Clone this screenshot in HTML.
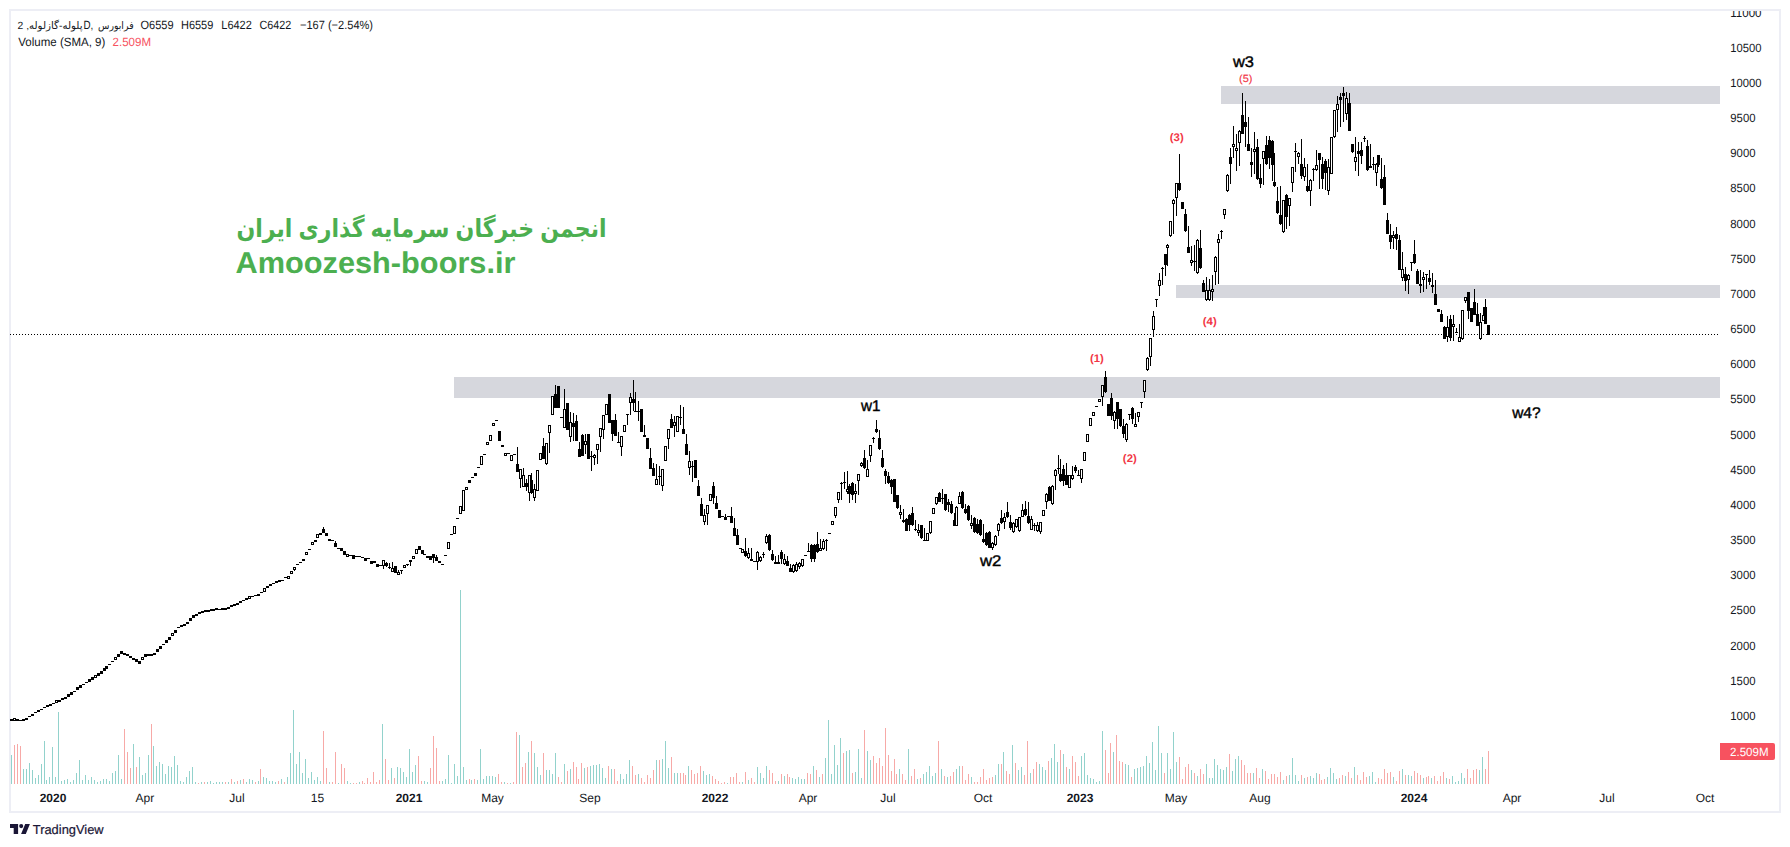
<!DOCTYPE html>
<html lang="en"><head><meta charset="utf-8"><title>TradingView chart</title>
<style>html,body{margin:0;padding:0;background:#fff;overflow:hidden}svg{display:block}</style>
</head><body>
<svg width="1790" height="847" viewBox="0 0 1790 847" shape-rendering="crispEdges">
<rect x="0" y="0" width="1790" height="847" fill="#ffffff"/>
<path d="M9 9H1781V813H9Z M11 11V811H1779V11Z" fill="#edeef5" fill-rule="evenodd"/>
<rect x="454" y="377" width="1266" height="21" fill="#d6d7dd"/>
<rect x="1176" y="285" width="544" height="13" fill="#d6d7dd"/>
<rect x="1221" y="86" width="499" height="18" fill="#d6d7dd"/>
<path d="M10 334.5H1720" stroke="#000" stroke-width="1" stroke-dasharray="1 2" fill="none"/>
<path d="M11 755h1V784h-1zM23 769h1V784h-1zM26 769h1V784h-1zM29 763h1V784h-1zM32 770h1V784h-1zM35 778h1V784h-1zM38 775h1V784h-1zM41 764h1V784h-1zM44 741h1V784h-1zM46 780h1V784h-1zM49 777h1V784h-1zM52 747h1V784h-1zM55 777h1V784h-1zM58 712h1V784h-1zM61 781h1V784h-1zM64 780h1V784h-1zM67 779h1V784h-1zM70 782h1V784h-1zM73 780h1V784h-1zM76 773h1V784h-1zM79 760h1V784h-1zM82 780h1V784h-1zM85 775h1V784h-1zM88 780h1V784h-1zM91 777h1V784h-1zM94 780h1V784h-1zM97 782h1V784h-1zM100 781h1V784h-1zM103 779h1V784h-1zM106 779h1V784h-1zM109 781h1V784h-1zM112 773h1V784h-1zM115 771h1V784h-1zM118 755h1V784h-1zM121 779h1V784h-1zM133 744h1V784h-1zM139 757h1V784h-1zM142 775h1V784h-1zM145 773h1V784h-1zM148 755h1V784h-1zM153 746h1V784h-1zM156 766h1V784h-1zM159 762h1V784h-1zM162 764h1V784h-1zM165 774h1V784h-1zM168 766h1V784h-1zM171 767h1V784h-1zM174 756h1V784h-1zM177 765h1V784h-1zM180 781h1V784h-1zM183 782h1V784h-1zM186 777h1V784h-1zM189 771h1V784h-1zM192 767h1V784h-1zM195 782h1V784h-1zM201 782h1V784h-1zM207 782h1V784h-1zM210 781h1V784h-1zM213 783h1V784h-1zM216 782h1V784h-1zM219 782h1V784h-1zM222 782h1V784h-1zM228 782h1V784h-1zM234 782h1V784h-1zM240 780h1V784h-1zM246 782h1V784h-1zM249 779h1V784h-1zM252 780h1V784h-1zM258 781h1V784h-1zM263 777h1V784h-1zM266 778h1V784h-1zM269 781h1V784h-1zM272 781h1V784h-1zM275 782h1V784h-1zM281 779h1V784h-1zM287 777h1V784h-1zM290 753h1V784h-1zM293 710h1V784h-1zM296 764h1V784h-1zM299 752h1V784h-1zM302 773h1V784h-1zM305 759h1V784h-1zM308 778h1V784h-1zM311 772h1V784h-1zM314 780h1V784h-1zM317 777h1V784h-1zM320 781h1V784h-1zM329 782h1V784h-1zM338 783h1V784h-1zM347 781h1V784h-1zM350 783h1V784h-1zM359 782h1V784h-1zM382 724h1V784h-1zM391 768h1V784h-1zM397 767h1V784h-1zM400 768h1V784h-1zM403 772h1V784h-1zM406 777h1V784h-1zM409 749h1V784h-1zM412 772h1V784h-1zM415 765h1V784h-1zM424 781h1V784h-1zM427 782h1V784h-1zM442 781h1V784h-1zM445 779h1V784h-1zM448 755h1V784h-1zM451 783h1V784h-1zM454 764h1V784h-1zM457 776h1V784h-1zM460 590h1V784h-1zM463 767h1V784h-1zM466 780h1V784h-1zM471 780h1V784h-1zM477 780h1V784h-1zM480 749h1V784h-1zM483 779h1V784h-1zM486 776h1V784h-1zM489 776h1V784h-1zM492 776h1V784h-1zM495 777h1V784h-1zM504 782h1V784h-1zM510 783h1V784h-1zM519 735h1V784h-1zM528 752h1V784h-1zM534 753h1V784h-1zM537 767h1V784h-1zM540 775h1V784h-1zM546 770h1V784h-1zM549 770h1V784h-1zM552 774h1V784h-1zM555 753h1V784h-1zM564 764h1V784h-1zM570 769h1V784h-1zM584 768h1V784h-1zM590 766h1V784h-1zM593 765h1V784h-1zM596 765h1V784h-1zM599 764h1V784h-1zM602 768h1V784h-1zM605 778h1V784h-1zM611 769h1V784h-1zM620 774h1V784h-1zM623 779h1V784h-1zM626 774h1V784h-1zM629 760h1V784h-1zM638 774h1V784h-1zM656 760h1V784h-1zM662 759h1V784h-1zM665 741h1V784h-1zM668 768h1V784h-1zM674 773h1V784h-1zM677 773h1V784h-1zM688 766h1V784h-1zM703 771h1V784h-1zM706 775h1V784h-1zM709 774h1V784h-1zM727 783h1V784h-1zM742 782h1V784h-1zM748 780h1V784h-1zM757 767h1V784h-1zM760 773h1V784h-1zM763 778h1V784h-1zM766 766h1V784h-1zM778 781h1V784h-1zM784 776h1V784h-1zM792 778h1V784h-1zM795 779h1V784h-1zM798 777h1V784h-1zM801 779h1V784h-1zM804 779h1V784h-1zM813 766h1V784h-1zM819 777h1V784h-1zM825 758h1V784h-1zM828 720h1V784h-1zM831 774h1V784h-1zM834 745h1V784h-1zM837 765h1V784h-1zM840 738h1V784h-1zM846 751h1V784h-1zM849 750h1V784h-1zM855 772h1V784h-1zM858 749h1V784h-1zM861 778h1V784h-1zM867 751h1V784h-1zM870 760h1V784h-1zM899 769h1V784h-1zM908 749h1V784h-1zM917 779h1V784h-1zM923 774h1V784h-1zM926 772h1V784h-1zM929 766h1V784h-1zM932 776h1V784h-1zM935 773h1V784h-1zM941 769h1V784h-1zM947 777h1V784h-1zM956 769h1V784h-1zM959 766h1V784h-1zM971 777h1V784h-1zM995 775h1V784h-1zM998 764h1V784h-1zM1003 752h1V784h-1zM1012 745h1V784h-1zM1018 770h1V784h-1zM1021 767h1V784h-1zM1030 773h1V784h-1zM1039 764h1V784h-1zM1042 767h1V784h-1zM1045 770h1V784h-1zM1051 758h1V784h-1zM1054 744h1V784h-1zM1057 762h1V784h-1zM1063 754h1V784h-1zM1069 769h1V784h-1zM1081 756h1V784h-1zM1084 753h1V784h-1zM1087 775h1V784h-1zM1090 778h1V784h-1zM1093 779h1V784h-1zM1096 782h1V784h-1zM1099 781h1V784h-1zM1102 731h1V784h-1zM1113 752h1V784h-1zM1125 764h1V784h-1zM1128 765h1V784h-1zM1134 769h1V784h-1zM1137 768h1V784h-1zM1140 767h1V784h-1zM1143 766h1V784h-1zM1146 756h1V784h-1zM1149 763h1V784h-1zM1152 742h1V784h-1zM1155 770h1V784h-1zM1158 726h1V784h-1zM1161 753h1V784h-1zM1167 753h1V784h-1zM1170 769h1V784h-1zM1173 732h1V784h-1zM1176 762h1V784h-1zM1191 770h1V784h-1zM1197 776h1V784h-1zM1206 764h1V784h-1zM1209 778h1V784h-1zM1212 778h1V784h-1zM1214 759h1V784h-1zM1217 765h1V784h-1zM1220 769h1V784h-1zM1223 770h1V784h-1zM1226 767h1V784h-1zM1232 771h1V784h-1zM1235 759h1V784h-1zM1238 756h1V784h-1zM1253 773h1V784h-1zM1262 769h1V784h-1zM1283 780h1V784h-1zM1289 775h1V784h-1zM1292 758h1V784h-1zM1295 775h1V784h-1zM1298 781h1V784h-1zM1304 778h1V784h-1zM1310 776h1V784h-1zM1313 778h1V784h-1zM1316 773h1V784h-1zM1327 777h1V784h-1zM1330 768h1V784h-1zM1333 773h1V784h-1zM1336 779h1V784h-1zM1345 776h1V784h-1zM1354 767h1V784h-1zM1369 776h1V784h-1zM1372 772h1V784h-1zM1375 782h1V784h-1zM1393 777h1V784h-1zM1402 769h1V784h-1zM1408 775h1V784h-1zM1411 776h1V784h-1zM1423 778h1V784h-1zM1431 778h1V784h-1zM1446 778h1V784h-1zM1452 776h1V784h-1zM1455 782h1V784h-1zM1458 781h1V784h-1zM1461 773h1V784h-1zM1464 778h1V784h-1zM1479 770h1V784h-1zM1482 757h1V784h-1z" fill="#92d2cc"/>
<path d="M14 745h1V784h-1zM17 744h1V784h-1zM20 746h1V784h-1zM124 729h1V784h-1zM127 752h1V784h-1zM130 768h1V784h-1zM136 767h1V784h-1zM151 724h1V784h-1zM198 783h1V784h-1zM204 782h1V784h-1zM225 782h1V784h-1zM231 779h1V784h-1zM237 781h1V784h-1zM243 779h1V784h-1zM255 782h1V784h-1zM260 769h1V784h-1zM278 781h1V784h-1zM284 782h1V784h-1zM323 731h1V784h-1zM326 768h1V784h-1zM332 782h1V784h-1zM335 752h1V784h-1zM341 764h1V784h-1zM344 768h1V784h-1zM353 783h1V784h-1zM356 783h1V784h-1zM362 781h1V784h-1zM364 783h1V784h-1zM367 778h1V784h-1zM370 782h1V784h-1zM373 772h1V784h-1zM376 782h1V784h-1zM379 780h1V784h-1zM385 759h1V784h-1zM388 780h1V784h-1zM394 778h1V784h-1zM418 756h1V784h-1zM421 781h1V784h-1zM430 768h1V784h-1zM433 736h1V784h-1zM436 748h1V784h-1zM439 781h1V784h-1zM469 779h1V784h-1zM474 779h1V784h-1zM498 774h1V784h-1zM501 782h1V784h-1zM507 783h1V784h-1zM513 782h1V784h-1zM516 732h1V784h-1zM522 767h1V784h-1zM525 763h1V784h-1zM531 741h1V784h-1zM543 753h1V784h-1zM558 777h1V784h-1zM561 782h1V784h-1zM567 771h1V784h-1zM573 762h1V784h-1zM576 767h1V784h-1zM578 779h1V784h-1zM581 763h1V784h-1zM587 767h1V784h-1zM608 766h1V784h-1zM614 769h1V784h-1zM617 781h1V784h-1zM632 766h1V784h-1zM635 775h1V784h-1zM641 778h1V784h-1zM644 782h1V784h-1zM647 775h1V784h-1zM650 778h1V784h-1zM653 770h1V784h-1zM659 760h1V784h-1zM671 757h1V784h-1zM680 773h1V784h-1zM683 773h1V784h-1zM685 775h1V784h-1zM691 770h1V784h-1zM694 774h1V784h-1zM697 773h1V784h-1zM700 766h1V784h-1zM712 776h1V784h-1zM715 779h1V784h-1zM718 781h1V784h-1zM721 783h1V784h-1zM724 782h1V784h-1zM730 777h1V784h-1zM733 777h1V784h-1zM736 773h1V784h-1zM739 782h1V784h-1zM745 772h1V784h-1zM751 778h1V784h-1zM754 782h1V784h-1zM769 770h1V784h-1zM772 773h1V784h-1zM775 781h1V784h-1zM781 774h1V784h-1zM787 774h1V784h-1zM789 777h1V784h-1zM807 773h1V784h-1zM810 774h1V784h-1zM816 770h1V784h-1zM822 774h1V784h-1zM843 753h1V784h-1zM852 773h1V784h-1zM864 730h1V784h-1zM873 756h1V784h-1zM876 763h1V784h-1zM879 758h1V784h-1zM882 766h1V784h-1zM885 728h1V784h-1zM888 755h1V784h-1zM891 771h1V784h-1zM894 759h1V784h-1zM896 774h1V784h-1zM902 774h1V784h-1zM905 780h1V784h-1zM911 776h1V784h-1zM914 769h1V784h-1zM920 778h1V784h-1zM938 741h1V784h-1zM944 776h1V784h-1zM950 776h1V784h-1zM953 772h1V784h-1zM962 766h1V784h-1zM965 780h1V784h-1zM968 774h1V784h-1zM974 782h1V784h-1zM977 782h1V784h-1zM980 777h1V784h-1zM983 769h1V784h-1zM986 780h1V784h-1zM989 778h1V784h-1zM992 777h1V784h-1zM1001 764h1V784h-1zM1006 771h1V784h-1zM1009 774h1V784h-1zM1015 763h1V784h-1zM1024 775h1V784h-1zM1027 741h1V784h-1zM1033 769h1V784h-1zM1036 762h1V784h-1zM1048 761h1V784h-1zM1060 750h1V784h-1zM1066 767h1V784h-1zM1072 756h1V784h-1zM1075 762h1V784h-1zM1078 776h1V784h-1zM1105 750h1V784h-1zM1108 773h1V784h-1zM1110 743h1V784h-1zM1116 735h1V784h-1zM1119 761h1V784h-1zM1122 762h1V784h-1zM1131 777h1V784h-1zM1164 773h1V784h-1zM1179 757h1V784h-1zM1182 779h1V784h-1zM1185 767h1V784h-1zM1188 764h1V784h-1zM1194 773h1V784h-1zM1200 769h1V784h-1zM1203 774h1V784h-1zM1229 754h1V784h-1zM1241 760h1V784h-1zM1244 765h1V784h-1zM1247 773h1V784h-1zM1250 773h1V784h-1zM1256 768h1V784h-1zM1259 778h1V784h-1zM1265 771h1V784h-1zM1268 779h1V784h-1zM1271 774h1V784h-1zM1274 774h1V784h-1zM1277 777h1V784h-1zM1280 772h1V784h-1zM1286 776h1V784h-1zM1301 775h1V784h-1zM1307 777h1V784h-1zM1319 774h1V784h-1zM1321 780h1V784h-1zM1324 779h1V784h-1zM1339 778h1V784h-1zM1342 775h1V784h-1zM1348 772h1V784h-1zM1351 778h1V784h-1zM1357 775h1V784h-1zM1360 780h1V784h-1zM1363 772h1V784h-1zM1366 777h1V784h-1zM1378 778h1V784h-1zM1381 779h1V784h-1zM1384 769h1V784h-1zM1387 773h1V784h-1zM1390 772h1V784h-1zM1396 781h1V784h-1zM1399 771h1V784h-1zM1405 775h1V784h-1zM1414 771h1V784h-1zM1417 773h1V784h-1zM1420 775h1V784h-1zM1426 777h1V784h-1zM1428 776h1V784h-1zM1434 776h1V784h-1zM1437 781h1V784h-1zM1440 776h1V784h-1zM1443 772h1V784h-1zM1449 779h1V784h-1zM1467 769h1V784h-1zM1470 778h1V784h-1zM1473 770h1V784h-1zM1476 769h1V784h-1zM1485 769h1V784h-1zM1488 751h1V784h-1z" fill="#f7a9a7"/>
<path d="M294 567h1V571h-1zM323 527h1V533h-1zM335 541h1V547h-1zM383 560h1V569h-1zM386 562h1V567h-1zM389 563h1V569h-1zM392 562h1V572h-1zM398 570h1V574h-1zM401 570h1V574h-1zM407 564h1V566h-1zM410 560h1V566h-1zM433 554h1V563h-1zM436 555h1V561h-1zM517 447h1V472h-1zM520 469h1V488h-1zM523 468h1V487h-1zM526 479h1V491h-1zM529 475h1V501h-1zM531 473h1V494h-1zM534 484h1V501h-1zM543 438h1V459h-1zM546 443h1V465h-1zM549 425h1V453h-1zM555 385h1V408h-1zM564 389h1V428h-1zM570 412h1V442h-1zM573 413h1V441h-1zM576 415h1V441h-1zM579 442h1V457h-1zM582 434h1V456h-1zM585 434h1V454h-1zM591 451h1V471h-1zM594 454h1V465h-1zM597 444h1V464h-1zM600 428h1V452h-1zM603 415h1V439h-1zM612 420h1V441h-1zM615 414h1V436h-1zM618 432h1V443h-1zM621 436h1V456h-1zM627 414h1V425h-1zM630 393h1V415h-1zM633 380h1V411h-1zM635 392h1V412h-1zM638 401h1V421h-1zM644 425h1V437h-1zM650 448h1V469h-1zM653 463h1V476h-1zM656 464h1V485h-1zM659 466h1V485h-1zM662 469h1V491h-1zM668 429h1V449h-1zM671 414h1V428h-1zM674 416h1V437h-1zM680 405h1V425h-1zM683 407h1V434h-1zM686 434h1V455h-1zM689 451h1V475h-1zM692 461h1V482h-1zM698 480h1V496h-1zM701 498h1V516h-1zM704 509h1V525h-1zM707 505h1V525h-1zM713 482h1V504h-1zM716 496h1V509h-1zM725 514h1V520h-1zM731 507h1V523h-1zM734 518h1V536h-1zM737 529h1V545h-1zM745 538h1V557h-1zM748 548h1V559h-1zM751 548h1V561h-1zM757 551h1V570h-1zM760 556h1V562h-1zM763 552h1V558h-1zM766 534h1V544h-1zM769 534h1V551h-1zM772 550h1V561h-1zM775 556h1V564h-1zM778 555h1V564h-1zM781 550h1V564h-1zM784 554h1V565h-1zM787 556h1V566h-1zM790 564h1V572h-1zM793 564h1V573h-1zM796 562h1V572h-1zM799 562h1V569h-1zM802 559h1V567h-1zM808 543h1V552h-1zM811 544h1V562h-1zM814 544h1V562h-1zM817 532h1V553h-1zM820 539h1V551h-1zM823 539h1V550h-1zM826 539h1V551h-1zM835 507h1V518h-1zM838 492h1V503h-1zM841 482h1V500h-1zM844 472h1V489h-1zM847 471h1V494h-1zM849 484h1V503h-1zM852 482h1V500h-1zM855 484h1V503h-1zM858 474h1V495h-1zM861 462h1V467h-1zM864 450h1V469h-1zM867 460h1V477h-1zM870 445h1V462h-1zM873 437h1V443h-1zM876 420h1V433h-1zM879 430h1V450h-1zM882 450h1V468h-1zM885 469h1V484h-1zM888 472h1V484h-1zM891 479h1V494h-1zM897 495h1V509h-1zM900 505h1V519h-1zM903 509h1V523h-1zM906 518h1V531h-1zM909 514h1V531h-1zM912 507h1V526h-1zM915 520h1V531h-1zM918 524h1V536h-1zM921 525h1V539h-1zM924 528h1V541h-1zM930 521h1V534h-1zM936 497h1V505h-1zM939 492h1V502h-1zM942 489h1V504h-1zM945 494h1V511h-1zM948 499h1V512h-1zM951 501h1V514h-1zM954 513h1V526h-1zM956 506h1V526h-1zM959 492h1V504h-1zM962 491h1V509h-1zM965 504h1V514h-1zM968 505h1V521h-1zM971 515h1V529h-1zM974 517h1V533h-1zM977 519h1V534h-1zM980 519h1V536h-1zM983 524h1V543h-1zM986 532h1V546h-1zM989 531h1V548h-1zM992 542h1V550h-1zM995 535h1V546h-1zM998 523h1V536h-1zM1001 510h1V524h-1zM1004 513h1V529h-1zM1007 502h1V518h-1zM1010 515h1V530h-1zM1013 522h1V533h-1zM1016 519h1V528h-1zM1019 517h1V532h-1zM1022 504h1V517h-1zM1025 501h1V516h-1zM1028 502h1V524h-1zM1031 516h1V530h-1zM1034 523h1V531h-1zM1037 522h1V532h-1zM1040 522h1V534h-1zM1046 493h1V509h-1zM1049 486h1V501h-1zM1052 485h1V505h-1zM1055 469h1V490h-1zM1058 455h1V474h-1zM1060 459h1V482h-1zM1063 465h1V486h-1zM1066 463h1V485h-1zM1072 466h1V480h-1zM1075 465h1V473h-1zM1078 470h1V476h-1zM1081 469h1V483h-1zM1102 385h1V406h-1zM1105 371h1V393h-1zM1111 393h1V420h-1zM1114 411h1V429h-1zM1117 402h1V429h-1zM1120 409h1V427h-1zM1123 419h1V438h-1zM1126 423h1V442h-1zM1129 414h1V420h-1zM1132 407h1V424h-1zM1135 413h1V427h-1zM1138 412h1V422h-1zM1141 402h1V408h-1zM1144 380h1V398h-1zM1147 357h1V371h-1zM1150 338h1V366h-1zM1153 311h1V337h-1zM1156 299h1V307h-1zM1159 273h1V296h-1zM1162 267h1V285h-1zM1165 254h1V276h-1zM1167 244h1V266h-1zM1170 221h1V237h-1zM1173 199h1V234h-1zM1176 183h1V216h-1zM1179 154h1V191h-1zM1185 209h1V232h-1zM1188 226h1V253h-1zM1191 246h1V266h-1zM1194 245h1V271h-1zM1197 239h1V274h-1zM1200 230h1V269h-1zM1203 280h1V292h-1zM1206 277h1V301h-1zM1209 279h1V301h-1zM1212 275h1V301h-1zM1215 256h1V285h-1zM1218 234h1V284h-1zM1221 230h1V239h-1zM1224 209h1V219h-1zM1227 174h1V192h-1zM1230 148h1V184h-1zM1233 126h1V158h-1zM1236 134h1V171h-1zM1239 130h1V166h-1zM1242 93h1V134h-1zM1245 101h1V147h-1zM1248 117h1V151h-1zM1251 148h1V177h-1zM1254 132h1V174h-1zM1257 139h1V180h-1zM1260 164h1V188h-1zM1263 151h1V185h-1zM1266 136h1V165h-1zM1269 136h1V169h-1zM1272 140h1V181h-1zM1274 153h1V187h-1zM1277 187h1V214h-1zM1280 186h1V225h-1zM1283 200h1V233h-1zM1286 194h1V229h-1zM1289 198h1V226h-1zM1292 167h1V192h-1zM1295 143h1V172h-1zM1298 152h1V164h-1zM1301 139h1V179h-1zM1304 158h1V181h-1zM1307 164h1V192h-1zM1310 179h1V206h-1zM1313 168h1V181h-1zM1316 150h1V171h-1zM1319 153h1V189h-1zM1322 157h1V189h-1zM1325 159h1V190h-1zM1328 159h1V195h-1zM1334 110h1V138h-1zM1337 96h1V132h-1zM1340 93h1V127h-1zM1343 87h1V122h-1zM1346 92h1V120h-1zM1349 93h1V131h-1zM1352 144h1V153h-1zM1355 137h1V171h-1zM1358 142h1V176h-1zM1361 142h1V164h-1zM1364 136h1V142h-1zM1367 140h1V171h-1zM1370 144h1V168h-1zM1373 157h1V170h-1zM1376 163h1V186h-1zM1378 155h1V167h-1zM1381 158h1V189h-1zM1384 165h1V205h-1zM1387 213h1V234h-1zM1390 224h1V249h-1zM1393 231h1V249h-1zM1396 227h1V250h-1zM1399 235h1V270h-1zM1402 252h1V281h-1zM1405 267h1V291h-1zM1408 274h1V294h-1zM1411 262h1V271h-1zM1414 240h1V264h-1zM1417 269h1V284h-1zM1420 270h1V293h-1zM1423 272h1V292h-1zM1426 274h1V289h-1zM1429 270h1V285h-1zM1432 273h1V293h-1zM1435 280h1V305h-1zM1441 310h1V322h-1zM1444 326h1V339h-1zM1447 316h1V342h-1zM1450 315h1V341h-1zM1453 315h1V341h-1zM1456 328h1V333h-1zM1459 324h1V342h-1zM1462 310h1V340h-1zM1465 297h1V303h-1zM1468 292h1V319h-1zM1474 289h1V315h-1zM1477 303h1V326h-1zM1480 313h1V340h-1zM1483 307h1V321h-1zM1485 299h1V324h-1z" fill="#000"/>
<path d="M13 718h3V721h-3zM55 700h3V703h-3zM94 675h3V678h-3zM114 657h3V660h-3zM141 657h3V660h-3zM171 633h3V636h-3zM248 596h3V599h-3zM263 588h3V592h-3zM287 576h3V579h-3zM290 571h3V574h-3zM293 567h3V570h-3zM305 552h3V555h-3zM311 542h3V545h-3zM316 534h3V538h-3zM346 554h3V557h-3zM382 560h3V566h-3zM391 568h3V572h-3zM397 572h3V575h-3zM403 565h3V568h-3zM412 556h3V559h-3zM415 549h3V554h-3zM447 542h3V549h-3zM453 526h3V534h-3zM459 506h3V514h-3zM462 490h3V511h-3zM465 487h3V490h-3zM480 456h3V465h-3zM486 442h3V445h-3zM489 435h3V441h-3zM492 423h3V426h-3zM504 453h3V456h-3zM510 455h3V461h-3zM519 469h3V479h-3zM522 475h3V487h-3zM528 475h3V493h-3zM533 489h3V498h-3zM536 470h3V491h-3zM539 453h3V460h-3zM545 443h3V464h-3zM548 425h3V433h-3zM551 396h3V415h-3zM563 409h3V428h-3zM569 422h3V437h-3zM584 441h3V445h-3zM593 455h3V458h-3zM596 444h3V450h-3zM599 428h3V437h-3zM602 415h3V430h-3zM605 404h3V415h-3zM620 436h3V447h-3zM623 425h3V432h-3zM629 397h3V403h-3zM655 479h3V485h-3zM661 469h3V486h-3zM664 446h3V461h-3zM667 429h3V439h-3zM673 422h3V426h-3zM676 416h3V432h-3zM688 461h3V468h-3zM703 515h3V522h-3zM706 505h3V514h-3zM709 494h3V501h-3zM741 549h3V553h-3zM747 553h3V558h-3zM756 552h3V562h-3zM759 557h3V561h-3zM765 536h3V543h-3zM783 559h3V564h-3zM792 565h3V572h-3zM795 564h3V571h-3zM798 563h3V567h-3zM801 559h3V566h-3zM819 548h3V551h-3zM822 541h3V549h-3zM831 521h3V525h-3zM834 507h3V516h-3zM837 492h3V500h-3zM846 489h3V492h-3zM854 491h3V494h-3zM857 474h3V481h-3zM860 463h3V466h-3zM866 469h3V477h-3zM869 445h3V456h-3zM899 512h3V515h-3zM917 530h3V533h-3zM926 533h3V541h-3zM929 521h3V533h-3zM932 508h3V514h-3zM935 497h3V504h-3zM955 507h3V526h-3zM958 496h3V504h-3zM970 523h3V526h-3zM991 543h3V548h-3zM994 536h3V545h-3zM997 524h3V531h-3zM1003 517h3V522h-3zM1012 523h3V532h-3zM1015 519h3V527h-3zM1018 517h3V531h-3zM1021 510h3V517h-3zM1030 519h3V530h-3zM1036 525h3V531h-3zM1039 522h3V532h-3zM1042 510h3V516h-3zM1045 494h3V502h-3zM1051 486h3V504h-3zM1054 470h3V476h-3zM1068 475h3V488h-3zM1071 475h3V479h-3zM1080 469h3V479h-3zM1083 452h3V461h-3zM1086 434h3V442h-3zM1089 418h3V426h-3zM1092 412h3V416h-3zM1098 399h3V402h-3zM1101 385h3V397h-3zM1113 412h3V421h-3zM1125 424h3V440h-3zM1134 424h3V427h-3zM1137 412h3V417h-3zM1143 380h3V392h-3zM1146 358h3V370h-3zM1149 338h3V357h-3zM1152 316h3V330h-3zM1158 280h3V286h-3zM1166 245h3V248h-3zM1169 221h3V236h-3zM1172 200h3V204h-3zM1175 183h3V198h-3zM1190 260h3V263h-3zM1196 240h3V273h-3zM1205 290h3V300h-3zM1208 290h3V300h-3zM1211 289h3V292h-3zM1214 257h3V272h-3zM1217 239h3V243h-3zM1223 209h3V215h-3zM1226 175h3V191h-3zM1232 144h3V147h-3zM1235 148h3V151h-3zM1238 131h3V143h-3zM1253 149h3V152h-3zM1262 151h3V159h-3zM1282 200h3V232h-3zM1288 198h3V206h-3zM1291 167h3V183h-3zM1297 153h3V157h-3zM1303 167h3V177h-3zM1309 180h3V191h-3zM1315 165h3V170h-3zM1327 167h3V191h-3zM1330 137h3V174h-3zM1333 110h3V137h-3zM1336 104h3V110h-3zM1345 98h3V114h-3zM1354 157h3V162h-3zM1375 164h3V173h-3zM1392 235h3V238h-3zM1401 269h3V278h-3zM1407 275h3V280h-3zM1422 277h3V280h-3zM1446 327h3V337h-3zM1452 324h3V327h-3zM1458 337h3V342h-3zM1461 310h3V339h-3zM1464 297h3V301h-3zM1479 322h3V339h-3zM1482 315h3V321h-3z" fill="#000"/>
<path d="M14 719h1V720h-1zM56 701h1V702h-1zM95 676h1V677h-1zM115 658h1V659h-1zM142 658h1V659h-1zM172 634h1V635h-1zM249 597h1V598h-1zM264 589h1V591h-1zM288 577h1V578h-1zM291 572h1V573h-1zM294 568h1V569h-1zM306 553h1V554h-1zM312 543h1V544h-1zM317 535h1V537h-1zM347 555h1V556h-1zM383 561h1V565h-1zM392 569h1V571h-1zM398 573h1V574h-1zM404 566h1V567h-1zM413 557h1V558h-1zM416 550h1V553h-1zM448 543h1V548h-1zM454 527h1V533h-1zM460 507h1V513h-1zM463 491h1V510h-1zM466 488h1V489h-1zM481 457h1V464h-1zM487 443h1V444h-1zM490 436h1V440h-1zM493 424h1V425h-1zM505 454h1V455h-1zM511 456h1V460h-1zM520 470h1V478h-1zM523 476h1V486h-1zM529 476h1V492h-1zM534 490h1V497h-1zM537 471h1V490h-1zM540 454h1V459h-1zM546 444h1V463h-1zM549 426h1V432h-1zM552 397h1V414h-1zM564 410h1V427h-1zM570 423h1V436h-1zM585 442h1V444h-1zM594 456h1V457h-1zM597 445h1V449h-1zM600 429h1V436h-1zM603 416h1V429h-1zM606 405h1V414h-1zM621 437h1V446h-1zM624 426h1V431h-1zM630 398h1V402h-1zM656 480h1V484h-1zM662 470h1V485h-1zM665 447h1V460h-1zM668 430h1V438h-1zM674 423h1V425h-1zM677 417h1V431h-1zM689 462h1V467h-1zM704 516h1V521h-1zM707 506h1V513h-1zM710 495h1V500h-1zM742 550h1V552h-1zM748 554h1V557h-1zM757 553h1V561h-1zM760 558h1V560h-1zM766 537h1V542h-1zM784 560h1V563h-1zM793 566h1V571h-1zM796 565h1V570h-1zM799 564h1V566h-1zM802 560h1V565h-1zM820 549h1V550h-1zM823 542h1V548h-1zM832 522h1V524h-1zM835 508h1V515h-1zM838 493h1V499h-1zM847 490h1V491h-1zM855 492h1V493h-1zM858 475h1V480h-1zM861 464h1V465h-1zM867 470h1V476h-1zM870 446h1V455h-1zM900 513h1V514h-1zM918 531h1V532h-1zM927 534h1V540h-1zM930 522h1V532h-1zM933 509h1V513h-1zM936 498h1V503h-1zM956 508h1V525h-1zM959 497h1V503h-1zM971 524h1V525h-1zM992 544h1V547h-1zM995 537h1V544h-1zM998 525h1V530h-1zM1004 518h1V521h-1zM1013 524h1V531h-1zM1016 520h1V526h-1zM1019 518h1V530h-1zM1022 511h1V516h-1zM1031 520h1V529h-1zM1037 526h1V530h-1zM1040 523h1V531h-1zM1043 511h1V515h-1zM1046 495h1V501h-1zM1052 487h1V503h-1zM1055 471h1V475h-1zM1069 476h1V487h-1zM1072 476h1V478h-1zM1081 470h1V478h-1zM1084 453h1V460h-1zM1087 435h1V441h-1zM1090 419h1V425h-1zM1093 413h1V415h-1zM1099 400h1V401h-1zM1102 386h1V396h-1zM1114 413h1V420h-1zM1126 425h1V439h-1zM1135 425h1V426h-1zM1138 413h1V416h-1zM1144 381h1V391h-1zM1147 359h1V369h-1zM1150 339h1V356h-1zM1153 317h1V329h-1zM1159 281h1V285h-1zM1167 246h1V247h-1zM1170 222h1V235h-1zM1173 201h1V203h-1zM1176 184h1V197h-1zM1191 261h1V262h-1zM1197 241h1V272h-1zM1206 291h1V299h-1zM1209 291h1V299h-1zM1212 290h1V291h-1zM1215 258h1V271h-1zM1218 240h1V242h-1zM1224 210h1V214h-1zM1227 176h1V190h-1zM1233 145h1V146h-1zM1236 149h1V150h-1zM1239 132h1V142h-1zM1254 150h1V151h-1zM1263 152h1V158h-1zM1283 201h1V231h-1zM1289 199h1V205h-1zM1292 168h1V182h-1zM1298 154h1V156h-1zM1304 168h1V176h-1zM1310 181h1V190h-1zM1316 166h1V169h-1zM1328 168h1V190h-1zM1331 138h1V173h-1zM1334 111h1V136h-1zM1337 105h1V109h-1zM1346 99h1V113h-1zM1355 158h1V161h-1zM1376 165h1V172h-1zM1393 236h1V237h-1zM1402 270h1V277h-1zM1408 276h1V279h-1zM1423 278h1V279h-1zM1447 328h1V336h-1zM1453 325h1V326h-1zM1459 338h1V341h-1zM1462 311h1V338h-1zM1465 298h1V300h-1zM1480 323h1V338h-1zM1483 316h1V320h-1z" fill="#fff"/>
<path d="M10 719h3V721h-3zM16 719h3V721h-3zM19 720h3v1h-3zM22 719h3V721h-3zM25 718h3V720h-3zM28 716h3v1h-3zM31 714h3V716h-3zM34 712h3v1h-3zM37 710h3V712h-3zM40 709h3v1h-3zM43 707h3v1h-3zM46 705h3V707h-3zM49 704h3V706h-3zM52 703h3v1h-3zM58 700h3V702h-3zM61 698h3V700h-3zM64 697h3V699h-3zM67 694h3V697h-3zM70 692h3V695h-3zM73 691h3v1h-3zM76 687h3V690h-3zM79 685h3V688h-3zM82 684h3v1h-3zM85 682h3v1h-3zM88 679h3V682h-3zM91 677h3V680h-3zM97 673h3V676h-3zM100 671h3V674h-3zM103 668h3V671h-3zM105 666h3V669h-3zM108 664h3v1h-3zM111 661h3v1h-3zM117 654h3V657h-3zM120 651h3V654h-3zM123 653h3V655h-3zM126 654h3V656h-3zM129 656h3V658h-3zM132 658h3V660h-3zM135 659h3V662h-3zM138 661h3V664h-3zM144 654h3V657h-3zM147 654h3V656h-3zM150 654h3V656h-3zM153 653h3V655h-3zM156 649h3V652h-3zM159 646h3V649h-3zM162 644h3v1h-3zM165 640h3V643h-3zM168 637h3V640h-3zM174 630h3V633h-3zM177 627h3v1h-3zM180 625h3V627h-3zM183 624h3V626h-3zM186 622h3V624h-3zM189 618h3V621h-3zM192 615h3V618h-3zM195 614h3V616h-3zM198 612h3V614h-3zM201 611h3V613h-3zM204 610h3V612h-3zM207 610h3V612h-3zM210 609h3V611h-3zM212 609h3V611h-3zM215 608h3V610h-3zM218 609h3v1h-3zM221 608h3V610h-3zM224 608h3V610h-3zM227 607h3V609h-3zM230 605h3V607h-3zM233 604h3V606h-3zM236 603h3V605h-3zM239 601h3V603h-3zM242 600h3v1h-3zM245 598h3V600h-3zM251 596h3v1h-3zM254 595h3v1h-3zM257 594h3V596h-3zM260 592h3v1h-3zM266 586h3V588h-3zM269 584h3V586h-3zM272 583h3v1h-3zM275 581h3V583h-3zM278 580h3V582h-3zM281 580h3v1h-3zM284 577h3v1h-3zM296 564h3v1h-3zM299 562h3v1h-3zM302 559h3V561h-3zM308 549h3v1h-3zM314 540h3V542h-3zM319 533h3V535h-3zM322 529h3V533h-3zM325 533h3V536h-3zM328 539h3V541h-3zM331 540h3v1h-3zM334 543h3V547h-3zM337 548h3v1h-3zM340 548h3V551h-3zM343 551h3V555h-3zM349 555h3v1h-3zM352 555h3V559h-3zM355 556h3v1h-3zM358 556h3v1h-3zM361 557h3v1h-3zM364 558h3V561h-3zM367 558h3v1h-3zM370 561h3V564h-3zM373 561h3V563h-3zM376 564h3V567h-3zM379 565h3V566h-3zM385 563h3V566h-3zM388 567h3V568h-3zM394 566h3V573h-3zM400 570h3v1h-3zM406 564h3v1h-3zM409 560h3V562h-3zM418 546h3V550h-3zM421 550h3V554h-3zM423 554h3v1h-3zM426 556h3V558h-3zM429 556h3V560h-3zM432 554h3V558h-3zM435 557h3V561h-3zM438 561h3V563h-3zM441 564h3v1h-3zM444 555h3v1h-3zM450 534h3v1h-3zM456 518h3v1h-3zM468 480h3V483h-3zM471 477h3v1h-3zM474 473h3V476h-3zM477 467h3v1h-3zM483 454h3v1h-3zM495 420h3v1h-3zM498 431h3V441h-3zM501 445h3V447h-3zM507 453h3v1h-3zM513 454h3v1h-3zM516 464h3V472h-3zM525 483h3V487h-3zM530 480h3V493h-3zM542 446h3V459h-3zM554 394h3V408h-3zM557 386h3V408h-3zM560 417h3v1h-3zM566 403h3V430h-3zM572 423h3V427h-3zM575 421h3V441h-3zM578 449h3V457h-3zM581 435h3V456h-3zM587 434h3V459h-3zM590 456h3V457h-3zM608 394h3V423h-3zM611 420h3V434h-3zM614 420h3V436h-3zM617 442h3v1h-3zM626 414h3v1h-3zM632 399h3V403h-3zM634 411h3v1h-3zM637 411h3v1h-3zM640 409h3V432h-3zM643 435h3V437h-3zM646 438h3V449h-3zM649 458h3V469h-3zM652 468h3V476h-3zM658 476h3v1h-3zM670 419h3V428h-3zM679 417h3v1h-3zM682 429h3V434h-3zM685 444h3V455h-3zM691 466h3v1h-3zM694 460h3V478h-3zM697 486h3V496h-3zM700 504h3V516h-3zM712 486h3V498h-3zM715 503h3V509h-3zM718 510h3V518h-3zM721 516h3v1h-3zM724 517h3V520h-3zM727 516h3v1h-3zM730 516h3V523h-3zM733 528h3V536h-3zM736 535h3V545h-3zM739 548h3v1h-3zM744 551h3V556h-3zM750 559h3V561h-3zM753 561h3v1h-3zM762 554h3v1h-3zM768 535h3V550h-3zM771 554h3V560h-3zM774 562h3V564h-3zM777 562h3V564h-3zM780 552h3V559h-3zM786 561h3V566h-3zM789 568h3V572h-3zM804 555h3v1h-3zM807 551h3V552h-3zM810 545h3V559h-3zM813 545h3V559h-3zM816 544h3V552h-3zM825 540h3v1h-3zM828 533h3v1h-3zM840 483h3v1h-3zM843 482h3v1h-3zM848 486h3V494h-3zM851 483h3V495h-3zM863 458h3V468h-3zM872 438h3V439h-3zM875 429h3V432h-3zM878 438h3V449h-3zM881 458h3V467h-3zM884 471h3V476h-3zM887 476h3V483h-3zM890 480h3V487h-3zM893 479h3V502h-3zM896 495h3V508h-3zM902 520h3V522h-3zM905 519h3V531h-3zM908 515h3V525h-3zM911 513h3V525h-3zM914 529h3v1h-3zM920 525h3V538h-3zM923 540h3V541h-3zM938 493h3V502h-3zM941 498h3v1h-3zM944 494h3V510h-3zM947 502h3V505h-3zM950 504h3V513h-3zM953 520h3V526h-3zM961 492h3V508h-3zM964 509h3V513h-3zM967 506h3V520h-3zM973 518h3V532h-3zM976 524h3V533h-3zM979 520h3V535h-3zM982 539h3V542h-3zM985 533h3V545h-3zM988 532h3V548h-3zM1000 518h3V523h-3zM1006 512h3V517h-3zM1009 522h3V528h-3zM1024 509h3V515h-3zM1027 516h3V523h-3zM1033 525h3v1h-3zM1048 487h3V501h-3zM1057 468h3v1h-3zM1059 474h3V481h-3zM1062 469h3V481h-3zM1065 475h3V485h-3zM1074 467h3V471h-3zM1077 475h3v1h-3zM1095 406h3v1h-3zM1104 377h3V392h-3zM1107 404h3V416h-3zM1110 398h3V416h-3zM1116 402h3V419h-3zM1119 409h3V426h-3zM1122 426h3V434h-3zM1128 414h3v1h-3zM1131 408h3V419h-3zM1140 402h3v1h-3zM1155 299h3v1h-3zM1161 268h3v1h-3zM1164 254h3V265h-3zM1178 183h3V190h-3zM1181 202h3V209h-3zM1184 214h3V231h-3zM1187 247h3V253h-3zM1193 261h3v1h-3zM1199 248h3V268h-3zM1202 283h3V292h-3zM1220 231h3v1h-3zM1229 157h3V164h-3zM1241 115h3V134h-3zM1244 122h3V127h-3zM1247 144h3V151h-3zM1250 162h3V165h-3zM1256 147h3V179h-3zM1259 178h3V184h-3zM1265 145h3V164h-3zM1268 140h3V158h-3zM1271 141h3V165h-3zM1273 182h3V186h-3zM1276 201h3V213h-3zM1279 215h3V224h-3zM1285 195h3V217h-3zM1294 151h3v1h-3zM1300 164h3V176h-3zM1306 186h3V191h-3zM1312 169h3v1h-3zM1318 153h3V160h-3zM1321 164h3V179h-3zM1324 161h3V173h-3zM1339 97h3V100h-3zM1342 93h3V96h-3zM1348 103h3V131h-3zM1351 144h3V152h-3zM1357 151h3V154h-3zM1360 150h3V156h-3zM1363 138h3v1h-3zM1366 146h3V170h-3zM1369 166h3V168h-3zM1372 164h3v1h-3zM1377 155h3V165h-3zM1380 179h3V188h-3zM1383 177h3V205h-3zM1386 220h3V234h-3zM1389 235h3V242h-3zM1395 234h3V239h-3zM1398 240h3V270h-3zM1404 274h3V281h-3zM1410 262h3v1h-3zM1413 254h3V263h-3zM1416 271h3V284h-3zM1419 284h3V286h-3zM1425 274h3v1h-3zM1428 278h3V282h-3zM1431 285h3V287h-3zM1434 294h3V305h-3zM1437 309h3V312h-3zM1440 314h3V322h-3zM1443 327h3V339h-3zM1449 319h3V338h-3zM1455 332h3v1h-3zM1467 292h3V311h-3zM1470 308h3V322h-3zM1473 302h3V315h-3zM1476 314h3V326h-3zM1484 307h3V324h-3zM1487 325h3V335h-3z" fill="#000"/>
<g font-family="'Liberation Sans', 'DejaVu Sans', sans-serif" shape-rendering="auto" text-rendering="geometricPrecision">
<text x="17.6" y="29" font-size="10.5" fill="#131722" font-weight="normal" text-anchor="start" textLength="65" lengthAdjust="spacingAndGlyphs" direction="ltr">پلوله-گازلوله, 2</text>
<text x="83.4" y="29" font-size="12" fill="#131722" font-weight="normal" text-anchor="start" textLength="9.8" lengthAdjust="spacingAndGlyphs" >D,</text>
<text x="98" y="29" font-size="10.5" fill="#131722" font-weight="normal" text-anchor="start" textLength="35.6" lengthAdjust="spacingAndGlyphs" >فرابورس</text>
<text x="140.5" y="29" font-size="12" fill="#131722" font-weight="normal" text-anchor="start" textLength="33" lengthAdjust="spacingAndGlyphs" >O6559</text>
<text x="181" y="29" font-size="12" fill="#131722" font-weight="normal" text-anchor="start" textLength="32.3" lengthAdjust="spacingAndGlyphs" >H6559</text>
<text x="221.3" y="29" font-size="12" fill="#131722" font-weight="normal" text-anchor="start" textLength="30.5" lengthAdjust="spacingAndGlyphs" >L6422</text>
<text x="259.5" y="29" font-size="12" fill="#131722" font-weight="normal" text-anchor="start" textLength="31.8" lengthAdjust="spacingAndGlyphs" >C6422</text>
<text x="300" y="29" font-size="12" fill="#131722" font-weight="normal" text-anchor="start" textLength="73" lengthAdjust="spacingAndGlyphs" >−167 (−2.54%)</text>
<text x="18.3" y="46" font-size="12" fill="#131722" font-weight="normal" text-anchor="start" textLength="87" lengthAdjust="spacingAndGlyphs" >Volume (SMA, 9)</text>
<text x="112.5" y="46" font-size="12" fill="#f7525f" font-weight="normal" text-anchor="start" textLength="38.5" lengthAdjust="spacingAndGlyphs" >2.509M</text>
<text x="236.5" y="236.5" font-size="25" fill="#4caf50" font-weight="bold" text-anchor="start" textLength="370" lengthAdjust="spacingAndGlyphs" >انجمن خبرگان سرمایه گذاری ایران</text>
<text x="235.5" y="272.5" font-size="30" fill="#4caf50" font-weight="bold" text-anchor="start" textLength="280" lengthAdjust="spacingAndGlyphs" >Amoozesh-boors.ir</text>
<clipPath id="pc"><rect x="1720" y="11" width="59" height="800"/></clipPath><g clip-path="url(#pc)">
<text x="1730.3" y="16.6" font-size="12" fill="#131722" font-weight="normal" text-anchor="start" textLength="31.2" lengthAdjust="spacingAndGlyphs" >11000</text>
<text x="1730.3" y="51.7" font-size="12" fill="#131722" font-weight="normal" text-anchor="start" textLength="31.2" lengthAdjust="spacingAndGlyphs" >10500</text>
<text x="1730.3" y="86.9" font-size="12" fill="#131722" font-weight="normal" text-anchor="start" textLength="31.2" lengthAdjust="spacingAndGlyphs" >10000</text>
<text x="1730.3" y="122.1" font-size="12" fill="#131722" font-weight="normal" text-anchor="start" textLength="25.2" lengthAdjust="spacingAndGlyphs" >9500</text>
<text x="1730.3" y="157.2" font-size="12" fill="#131722" font-weight="normal" text-anchor="start" textLength="25.2" lengthAdjust="spacingAndGlyphs" >9000</text>
<text x="1730.3" y="192.4" font-size="12" fill="#131722" font-weight="normal" text-anchor="start" textLength="25.2" lengthAdjust="spacingAndGlyphs" >8500</text>
<text x="1730.3" y="227.5" font-size="12" fill="#131722" font-weight="normal" text-anchor="start" textLength="25.2" lengthAdjust="spacingAndGlyphs" >8000</text>
<text x="1730.3" y="262.7" font-size="12" fill="#131722" font-weight="normal" text-anchor="start" textLength="25.2" lengthAdjust="spacingAndGlyphs" >7500</text>
<text x="1730.3" y="297.9" font-size="12" fill="#131722" font-weight="normal" text-anchor="start" textLength="25.2" lengthAdjust="spacingAndGlyphs" >7000</text>
<text x="1730.3" y="333.0" font-size="12" fill="#131722" font-weight="normal" text-anchor="start" textLength="25.2" lengthAdjust="spacingAndGlyphs" >6500</text>
<text x="1730.3" y="368.2" font-size="12" fill="#131722" font-weight="normal" text-anchor="start" textLength="25.2" lengthAdjust="spacingAndGlyphs" >6000</text>
<text x="1730.3" y="403.3" font-size="12" fill="#131722" font-weight="normal" text-anchor="start" textLength="25.2" lengthAdjust="spacingAndGlyphs" >5500</text>
<text x="1730.3" y="438.5" font-size="12" fill="#131722" font-weight="normal" text-anchor="start" textLength="25.2" lengthAdjust="spacingAndGlyphs" >5000</text>
<text x="1730.3" y="473.7" font-size="12" fill="#131722" font-weight="normal" text-anchor="start" textLength="25.2" lengthAdjust="spacingAndGlyphs" >4500</text>
<text x="1730.3" y="508.8" font-size="12" fill="#131722" font-weight="normal" text-anchor="start" textLength="25.2" lengthAdjust="spacingAndGlyphs" >4000</text>
<text x="1730.3" y="544.0" font-size="12" fill="#131722" font-weight="normal" text-anchor="start" textLength="25.2" lengthAdjust="spacingAndGlyphs" >3500</text>
<text x="1730.3" y="579.1" font-size="12" fill="#131722" font-weight="normal" text-anchor="start" textLength="25.2" lengthAdjust="spacingAndGlyphs" >3000</text>
<text x="1730.3" y="614.3" font-size="12" fill="#131722" font-weight="normal" text-anchor="start" textLength="25.2" lengthAdjust="spacingAndGlyphs" >2500</text>
<text x="1730.3" y="649.5" font-size="12" fill="#131722" font-weight="normal" text-anchor="start" textLength="25.2" lengthAdjust="spacingAndGlyphs" >2000</text>
<text x="1730.3" y="684.6" font-size="12" fill="#131722" font-weight="normal" text-anchor="start" textLength="25.2" lengthAdjust="spacingAndGlyphs" >1500</text>
<text x="1730.3" y="719.8" font-size="12" fill="#131722" font-weight="normal" text-anchor="start" textLength="25.2" lengthAdjust="spacingAndGlyphs" >1000</text>
</g>
<text x="53" y="802" font-size="12" fill="#131722" font-weight="bold" text-anchor="middle" >2020</text>
<text x="144.8" y="802" font-size="12" fill="#131722" font-weight="normal" text-anchor="middle" >Apr</text>
<text x="237" y="802" font-size="12" fill="#131722" font-weight="normal" text-anchor="middle" >Jul</text>
<text x="317.5" y="802" font-size="12" fill="#131722" font-weight="normal" text-anchor="middle" >15</text>
<text x="409" y="802" font-size="12" fill="#131722" font-weight="bold" text-anchor="middle" >2021</text>
<text x="492.5" y="802" font-size="12" fill="#131722" font-weight="normal" text-anchor="middle" >May</text>
<text x="590" y="802" font-size="12" fill="#131722" font-weight="normal" text-anchor="middle" >Sep</text>
<text x="715" y="802" font-size="12" fill="#131722" font-weight="bold" text-anchor="middle" >2022</text>
<text x="808" y="802" font-size="12" fill="#131722" font-weight="normal" text-anchor="middle" >Apr</text>
<text x="888" y="802" font-size="12" fill="#131722" font-weight="normal" text-anchor="middle" >Jul</text>
<text x="983" y="802" font-size="12" fill="#131722" font-weight="normal" text-anchor="middle" >Oct</text>
<text x="1080" y="802" font-size="12" fill="#131722" font-weight="bold" text-anchor="middle" >2023</text>
<text x="1176" y="802" font-size="12" fill="#131722" font-weight="normal" text-anchor="middle" >May</text>
<text x="1260" y="802" font-size="12" fill="#131722" font-weight="normal" text-anchor="middle" >Aug</text>
<text x="1414" y="802" font-size="12" fill="#131722" font-weight="bold" text-anchor="middle" >2024</text>
<text x="1512" y="802" font-size="12" fill="#131722" font-weight="normal" text-anchor="middle" >Apr</text>
<text x="1607" y="802" font-size="12" fill="#131722" font-weight="normal" text-anchor="middle" >Jul</text>
<text x="1705" y="802" font-size="12" fill="#131722" font-weight="normal" text-anchor="middle" >Oct</text>
<path d="M1720 743h53a2 2 0 0 1 2 2v13a2 2 0 0 1 -2 2h-53z" fill="#f7525f"/>
<text x="1730" y="756" font-size="12" fill="#ffffff" font-weight="normal" text-anchor="start" textLength="38.5" lengthAdjust="spacingAndGlyphs" >2.509M</text>
<text x="861" y="411" font-size="15.5" fill="#000" font-weight="normal" text-anchor="start" textLength="19.5" lengthAdjust="spacingAndGlyphs" stroke="#000" stroke-width="0.4">w1</text>
<text x="980" y="566" font-size="15.5" fill="#000" font-weight="normal" text-anchor="start" textLength="21.4" lengthAdjust="spacingAndGlyphs" stroke="#000" stroke-width="0.4">w2</text>
<text x="1233" y="67" font-size="15.5" fill="#000" font-weight="normal" text-anchor="start" textLength="21" lengthAdjust="spacingAndGlyphs" stroke="#000" stroke-width="0.4">w3</text>
<text x="1512.2" y="418" font-size="15.5" fill="#000" font-weight="normal" text-anchor="start" textLength="28.4" lengthAdjust="spacingAndGlyphs" stroke="#000" stroke-width="0.4">w4?</text>
<text x="1096.9" y="362" font-size="11" fill="#f23645" font-weight="bold" text-anchor="middle" textLength="13.9" lengthAdjust="spacingAndGlyphs" >(1)</text>
<text x="1129.8" y="462" font-size="11" fill="#f23645" font-weight="bold" text-anchor="middle" textLength="13.9" lengthAdjust="spacingAndGlyphs" >(2)</text>
<text x="1176.75" y="140.9" font-size="11" fill="#f23645" font-weight="bold" text-anchor="middle" textLength="13.9" lengthAdjust="spacingAndGlyphs" >(3)</text>
<text x="1209.75" y="325" font-size="11" fill="#f23645" font-weight="bold" text-anchor="middle" textLength="13.9" lengthAdjust="spacingAndGlyphs" >(4)</text>
<text x="1245.75" y="81.9" font-size="10.4" fill="#f23645" font-weight="normal" text-anchor="middle" textLength="13.4" lengthAdjust="spacingAndGlyphs" stroke="#f23645" stroke-width="0.15">(5)</text>
<g fill="#1a1636"><path d="M10 824h8.1v10h-4.4v-5.9H10z"/><circle cx="21.2" cy="826.1" r="2.05"/><path d="M25.2 824h4.7l-4.1 10h-4.7z"/></g>
<text x="32.8" y="834" font-size="13" fill="#1a1636" font-weight="normal" text-anchor="start" textLength="70.8" lengthAdjust="spacingAndGlyphs" stroke="#1a1636" stroke-width="0.2">TradingView</text>
</g>
</svg>
</body></html>
